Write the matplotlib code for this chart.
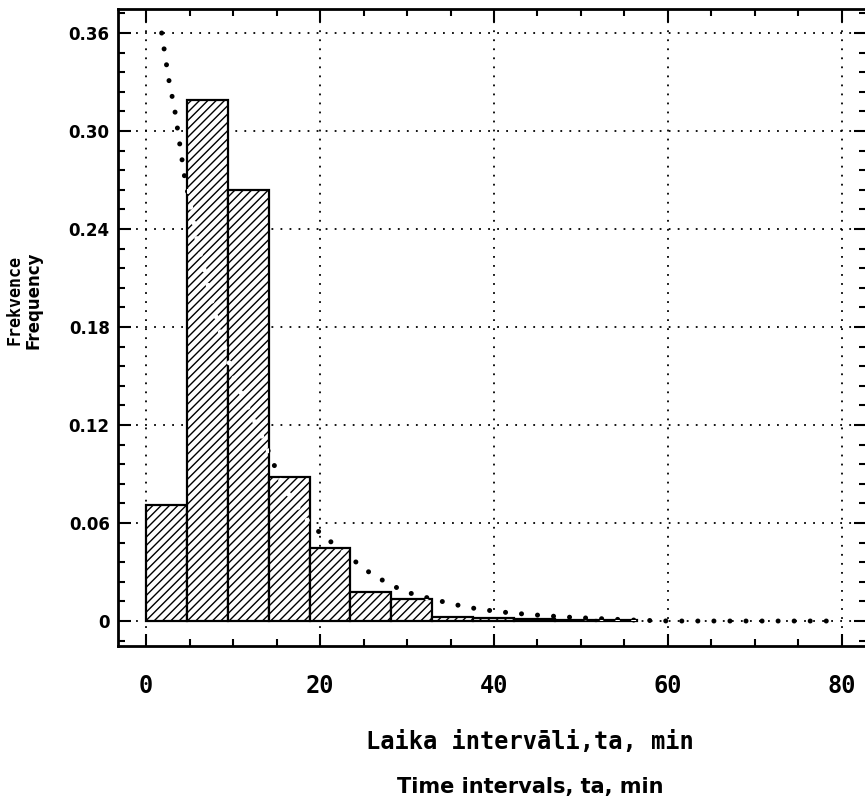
import matplotlib
matplotlib.use("Agg")
import matplotlib.pyplot as plt
from matplotlib.path import Path
from matplotlib.transforms import Affine2D
from matplotlib.ticker import MultipleLocator, FixedLocator

# histogram of time intervals (bin width 4.7 min)
bin_left = [0.0, 4.7, 9.4, 14.1, 18.8, 23.5, 28.2, 32.9, 37.6, 42.3, 47.0, 51.7]
bin_width = 4.7
freq = [0.071, 0.319, 0.264, 0.088, 0.0445, 0.0176, 0.0135, 0.0026,
        0.0018, 0.0012, 0.0008, 0.0006]

# fitted curve
curve_x = [1.8, 2.6, 3.3, 4.4, 6.0, 8.0, 10.0, 11.6, 13.5, 15.8, 18.9, 22.7,
           26.1, 29.7, 33.2, 36.9, 40.5, 44.0, 48.0, 52.0, 56.0, 60.0, 70.0, 80.0]
curve_y = [0.360, 0.332, 0.313, 0.273, 0.230, 0.187, 0.150, 0.132, 0.111,
           0.082, 0.059, 0.042, 0.028, 0.018, 0.013, 0.0084, 0.0057, 0.0040,
           0.0025, 0.0015, 0.0006, 0.0, 0.0, 0.0]

x_ticks = [0, 20, 40, 60, 80]
y_ticks = [0, 0.06, 0.12, 0.18, 0.24, 0.30, 0.36]
y_labels = ["0", "0.06", "0.12", "0.18", "0.24", "0.30", "0.36"]

plt.rcParams['hatch.linewidth'] = 1.0

fig = plt.figure(figsize=(8.65, 7.97), dpi=100)
ax = fig.add_axes([118 / 865, 151 / 797, 748 / 865, 637 / 797])

bars = ax.bar(bin_left, freq, width=bin_width, align='edge', color='white',
              edgecolor='black', linewidth=1.6, hatch='////', zorder=3)

dot_style = dict(linestyle=(0, (0.01, 3.2)), dash_capstyle='round', linewidth=3.6)
ax.plot(curve_x, curve_y, color='black', zorder=2, **dot_style)

# inside the bars the dots show up white
rects = [Path.unit_rectangle().transformed(Affine2D().scale(bin_width, h).translate(x0, 0))
         for x0, h in zip(bin_left, freq)]
clip = Path.make_compound_path(*rects)
white, = ax.plot(curve_x, curve_y, color='white', zorder=4, **dot_style)
white.set_clip_path(clip, ax.transData)

ax.set_xlim(-3.22, 82.76)
ax.set_ylim(-0.0153, 0.3747)

ax.xaxis.set_major_locator(FixedLocator(x_ticks))
ax.xaxis.set_minor_locator(MultipleLocator(5))
ax.yaxis.set_major_locator(FixedLocator(y_ticks))
ax.yaxis.set_minor_locator(MultipleLocator(0.012))
ax.set_yticklabels(y_labels)

ax.tick_params(which='both', direction='in', top=True, right=True, width=1.5)
ax.tick_params(which='major', length=9)
ax.tick_params(which='minor', length=5)
ax.tick_params(axis='x', pad=20)
ax.tick_params(axis='y', pad=6)
for lab in ax.get_xticklabels():
    lab.set_fontfamily('DejaVu Sans Mono')
    lab.set_fontweight('bold')
    lab.set_fontsize(17)
for lab in ax.get_yticklabels():
    lab.set_fontweight('bold')
    lab.set_fontsize(12)

ax.grid(True, which='major', color='black', linestyle=(0, (1, 4)), linewidth=1.3, zorder=1)
ax.set_axisbelow(True)
for s in ax.spines.values():
    s.set_linewidth(2)

fig.text(530 / 865, 1 - 742 / 797, "Laika intervāli,ta, min", ha='center', va='center',
         fontsize=17, fontweight='bold', family='DejaVu Sans Mono')
fig.text(530 / 865, 1 - 787 / 797, "Time intervals, ta, min", ha='center', va='center',
         fontsize=15, fontweight='bold')
fig.text(15 / 865, 1 - 300 / 797, "Frekvence", rotation=90, ha='center', va='center',
         fontsize=12, fontweight='bold', family='DejaVu Sans Mono')
fig.text(33 / 865, 1 - 300 / 797, "Frequency", rotation=90, ha='center', va='center',
         fontsize=12, fontweight='bold')

fig.savefig("out.png", dpi=100)
